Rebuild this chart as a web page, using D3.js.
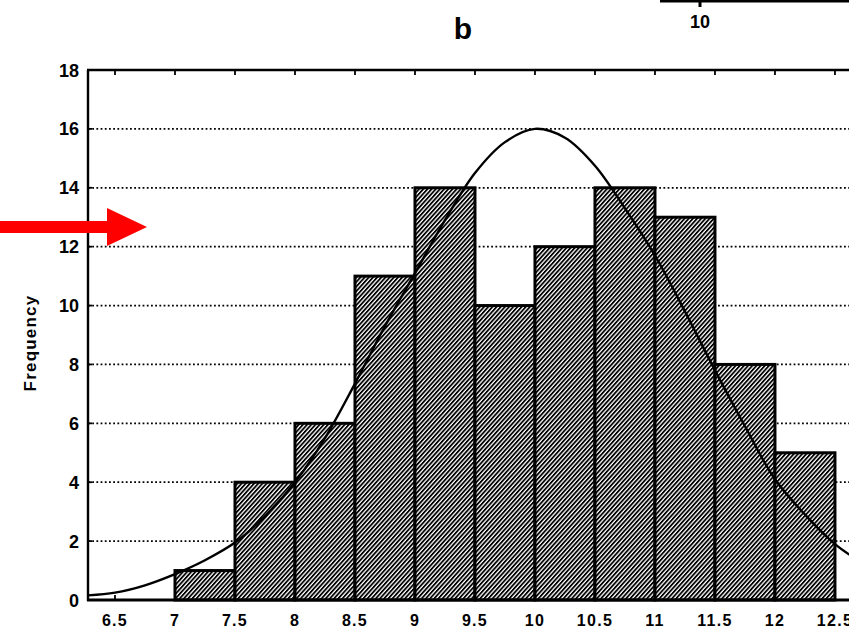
<!DOCTYPE html>
<html>
<head>
    <title>Histogram b</title>
    <script src="https://d3js.org/d3.v7.min.js"></script>
    <style>
        body { margin: 0; background: #fff; }
        text { font-family: "Liberation Sans", Arial, sans-serif; font-weight: bold; fill: #000; }
        .grid line { stroke: #000; stroke-width: 1.7; stroke-dasharray: 1.8,2.4; }
        .bar { stroke: #000; stroke-width: 3; fill: url(#hatch); }
        .curve { fill: none; stroke: #000; stroke-width: 2.4; }
        .frame { stroke: #000; stroke-width: 2.4; fill: none; }
    </style>
</head>
<body>
    <svg width="849" height="630"></svg>

    <script>
        // histogram bins (lower edge, upper edge) and counts
        const binStarts = [7, 7.5, 8, 8.5, 9, 9.5, 10, 10.5, 11, 11.5, 12];
        const binEnds   = [7.5, 8, 8.5, 9, 9.5, 10, 10.5, 11, 11.5, 12, 12.5];
        const counts    = [1, 4, 6, 11, 14, 10, 12, 14, 13, 8, 5];

        // fitted curve
        const curveX = [6.25, 6.5, 6.75, 7, 7.25, 7.5, 7.75, 8, 8.25, 8.5, 8.75, 9, 9.25, 9.5, 9.75,
                        10, 10.25, 10.5, 10.75, 11, 11.25, 11.5, 11.75, 12, 12.25, 12.5, 12.75];
        const curveY = [0.15, 0.25, 0.5, 0.88, 1.35, 1.95, 2.85, 4.0, 5.5, 7.35, 9.3, 11.1, 12.9, 14.5, 15.55,
                        16, 15.7, 14.75, 13.3, 11.7, 9.8, 7.8, 5.9, 4.1, 2.9, 1.9, 1.2];

        const xTicks = [6.5, 7, 7.5, 8, 8.5, 9, 9.5, 10, 10.5, 11, 11.5, 12, 12.5];
        const yTicks = [0, 2, 4, 6, 8, 10, 12, 14, 16, 18];
        const gridTicks = [2, 4, 6, 8, 10, 12, 14, 16];

        const svg = d3.select("svg");
        const mLeft = 88, mTop = 70, mBottom = 600, mRight = 849;

        const x = d3.scaleLinear().domain([6.275, 12.617]).range([mLeft, mRight]);
        const y = d3.scaleLinear().domain([0, 18]).range([mBottom, mTop]);

        // hatch pattern and clip
        const defs = svg.append("defs");
        const pat = defs.append("pattern")
            .attr("id", "hatch")
            .attr("patternUnits", "userSpaceOnUse")
            .attr("width", 3.1)
            .attr("height", 10)
            .attr("patternTransform", "rotate(42)");
        pat.append("rect").attr("width", 3.1).attr("height", 10).attr("fill", "#fff");
        pat.append("rect").attr("width", 1.8).attr("height", 10).attr("fill", "#000");

        defs.append("clipPath").attr("id", "plot")
            .append("rect").attr("x", mLeft).attr("y", mTop - 2)
            .attr("width", mRight - mLeft).attr("height", mBottom - mTop + 4);

        // dotted grid
        svg.append("g").attr("class", "grid")
            .selectAll("line")
            .data(gridTicks)
            .enter().append("line")
            .attr("x1", mLeft)
            .attr("x2", mRight)
            .attr("y1", d => y(d))
            .attr("y2", d => y(d));

        // bars
        svg.append("g")
            .selectAll("rect")
            .data(counts)
            .enter().append("rect")
            .attr("class", "bar")
            .attr("x", (d, i) => x(binStarts[i]))
            .attr("width", (d, i) => x(binEnds[i]) - x(binStarts[i]))
            .attr("y", d => y(d))
            .attr("height", d => y(0) - y(d));

        // fitted curve
        const line = d3.line()
            .x(d => x(d[0]))
            .y(d => y(d[1]))
            .curve(d3.curveCatmullRom);

        svg.append("path")
            .attr("class", "curve")
            .attr("clip-path", "url(#plot)")
            .attr("d", line(curveX.map((v, i) => [v, curveY[i]])));

        // frame: left, top, bottom
        svg.append("line").attr("class", "frame")
            .attr("x1", mLeft).attr("x2", mLeft).attr("y1", mTop).attr("y2", mBottom + 1);
        svg.append("line").attr("class", "frame")
            .attr("x1", mLeft - 1).attr("x2", mRight).attr("y1", mTop).attr("y2", mTop);
        svg.append("line").attr("class", "frame").style("stroke-width", 2.8)
            .attr("x1", mLeft - 1).attr("x2", mRight).attr("y1", mBottom).attr("y2", mBottom);

        // top ticks (inward)
        svg.append("g").selectAll("line")
            .data(xTicks)
            .enter().append("line")
            .attr("x1", d => x(d)).attr("x2", d => x(d))
            .attr("y1", mTop).attr("y2", mTop + 5)
            .attr("stroke", "#000").attr("stroke-width", 1.8);

        // bottom ticks (inward)
        svg.append("g").selectAll("line")
            .data(xTicks)
            .enter().append("line")
            .attr("x1", d => x(d)).attr("x2", d => x(d))
            .attr("y1", mBottom).attr("y2", mBottom - 5)
            .attr("stroke", "#000").attr("stroke-width", 1.8);

        // left ticks (inward)
        svg.append("g").selectAll("line")
            .data(yTicks)
            .enter().append("line")
            .attr("x1", mLeft).attr("x2", mLeft + 4)
            .attr("y1", d => y(d)).attr("y2", d => y(d))
            .attr("stroke", "#000").attr("stroke-width", 1.8);

        // x labels
        svg.append("g").selectAll("text")
            .data(xTicks)
            .enter().append("text")
            .attr("x", d => x(d))
            .attr("y", 626)
            .attr("text-anchor", "middle")
            .style("font-size", "16px")
            .style("letter-spacing", "1.3px")
            .text(d => d);

        // y labels
        svg.append("g").selectAll("text")
            .data(yTicks)
            .enter().append("text")
            .attr("x", 79)
            .attr("y", d => y(d) + 6.5)
            .attr("text-anchor", "end")
            .style("font-size", "18px")
            .text(d => d);

        // axis title
        svg.append("text")
            .attr("transform", `translate(36, ${(mTop + mBottom) / 2 + 8}) rotate(-90)`)
            .attr("text-anchor", "middle")
            .style("font-size", "17px")
            .style("letter-spacing", "1.2px")
            .text("Frequency");

        // panel title
        svg.append("text")
            .attr("x", 463)
            .attr("y", 39)
            .attr("text-anchor", "middle")
            .style("font-size", "30px")
            .text("b");

        // remnant of the panel above: axis line, tick, label
        svg.append("line")
            .attr("x1", 660).attr("x2", 849).attr("y1", 1).attr("y2", 1)
            .attr("stroke", "#000").attr("stroke-width", 3);
        svg.append("line")
            .attr("x1", 700).attr("x2", 700).attr("y1", 0).attr("y2", 7)
            .attr("stroke", "#000").attr("stroke-width", 3);
        svg.append("text")
            .attr("x", 700)
            .attr("y", 28)
            .attr("text-anchor", "middle")
            .style("font-size", "18px")
            .text("10");

        // red arrow annotation
        svg.append("path")
            .attr("d", "M0,221 L107,221 L107,208 L147,227 L107,246 L107,233 L0,233 Z")
            .attr("fill", "#ff0000");
    </script>
</body>
</html>
